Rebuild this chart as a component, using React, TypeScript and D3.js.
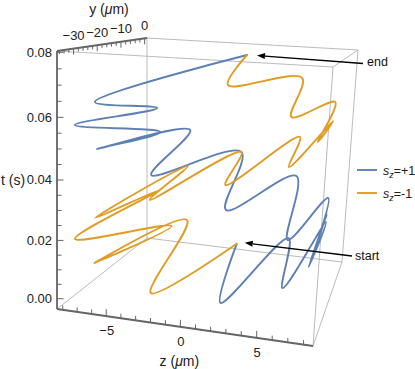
import * as d3 from 'd3';

// trajectory samples: time (s), z (µm), y (µm)
const tBlue = [0, 0.004, 0.0065, 0.0095, 0.013, 0.016, 0.0185, 0.0205, 0.0235, 0.027, 0.0315, 0.0335, 0.038, 0.04, 0.045, 0.048, 0.052, 0.0565, 0.059, 0.0625, 0.08];
const zBlue = [-0.2, 2.3, 4.3, 6.1, 7.1, 7.6, 7.3, 7.9, 7.2, 6.4, 4.6, 2.2, -0.2, -3.5, -4.6, -7.0, -3.9, -8.0, -4.7, -7.7, 2.1];
const yBlue = [-0.4, -33.9, -2.0, -30.7, 0.2, -28.4, -2.7, -33.0, -0.6, -33.7, -1.4, -31.8, 0.5, -26.4, 0.7, -28.6, -19.1, -32.0, -15.4, -25.2, -19.9];

const tOrange = [0, 0.003, 0.008, 0.0115, 0.015, 0.0185, 0.022, 0.0265, 0.031, 0.0345, 0.038, 0.041, 0.047, 0.049, 0.054, 0.056, 0.0608, 0.063, 0.071, 0.073, 0.08];
const zOrange = [-0.2, -2.6, -4.5, -6.4, -3.7, -7.9, -6.3, -6.5, -4.5, -2.8, -0.2, 2.0, 4.7, 6.1, 7.2, 7.6, 7.2, 5.8, 5.1, 2.2, 2.1];
const yOrange = [-0.4, -32.3, -0.7, -33.2, -13.7, -32.4, -4.0, -32.5, -0.8, -32.5, 0.5, -30.7, -1.5, -32.0, -1.2, -27.7, -0.1, -27.3, -7.8, -34.6, -19.9];

const seriesNames = ['+1', '-1'];
const seriesColors = ['#5E81B5', '#E19C24'];

const zMajor = [-5, 0, 5];
const yMajor = [-30, -20, -10, 0];
const tMajor = [0, 0.02, 0.04, 0.06, 0.08];
const tLabels = ['0.00', '0.02', '0.04', '0.06', '0.08'];

// view: screen position of the box corners, key = z(0/1) y(0/1) t(0/1)
const corners: Record<string, [number, number]> = {
  '000': [57, 309], '100': [313, 346], '001': [57, 51], '101': [333, 67],
  '010': [147, 238], '110': [342, 262], '011': [147, 38], '111': [358, 50],
};

const font = 'Liberation Sans, Arial, sans-serif';

export default function App() {
  const width = 415, height = 369;
  const zDom = [-8.4, 8.6], yDom = [-37, 1], tDom = [-0.0036, 0.0804];
  const zScale = d3.scaleLinear().domain(zDom).range([0, 1]);
  const yScale = d3.scaleLinear().domain(yDom).range([0, 1]);
  const tScale = d3.scaleLinear().domain(tDom).range([0, 1]);
  const persp = (f: number, k: number) => f / (f + k * (1 - f));

  const project = (z: number, y: number, t: number): [number, number] => {
    const u = persp(zScale(z), 1.05), v = yScale(y), w = persp(tScale(t), 1.079);
    let px = 0, py = 0;
    for (const i of [0, 1]) for (const j of [0, 1]) for (const k of [0, 1]) {
      const wt = (i ? u : 1 - u) * (j ? v : 1 - v) * (k ? w : 1 - w);
      const c = corners[`${i}${j}${k}`];
      px += wt * c[0];
      py += wt * c[1];
    }
    return [px, py];
  };

  const ext = (b: number, d: number[]) => d[b];
  const edges: number[][][] = [];
  for (const a of [0, 1]) for (const b of [0, 1]) {
    edges.push([[0, a, b], [1, a, b]]);
    edges.push([[a, 0, b], [a, 1, b]]);
    edges.push([[a, b, 0], [a, b, 1]]);
  }
  const P = (c: number[]) => project(ext(c[0], zDom), ext(c[1], yDom), ext(c[2], tDom));

  const line = d3.line<[number, number]>().curve(d3.curveCatmullRom.alpha(0.5));
  const blue = tBlue.map((t, i) => project(zBlue[i], yBlue[i], t));
  const orange = tOrange.map((t, i) => project(zOrange[i], yOrange[i], t));

  const axisColor = '#666';
  const zMin = zDom[0], yMin = yDom[0], tMin = tDom[0], tMax = tDom[1];

  const tMinor = d3.range(0, 0.0801, 0.005);
  const zMinor = d3.range(-8, 9, 1);
  const yMinor = d3.range(-36, 1, 2);

  const arrow = (x1: number, y1: number, x2: number, y2: number, key: string) => {
    const dx = x2 - x1, dy = y2 - y1, len = Math.hypot(dx, dy);
    const ux = dx / len, uy = dy / len;
    const hl = 8, hw = 3;
    const bx = x2 - ux * hl, by = y2 - uy * hl;
    const pts = [[x2, y2], [bx - uy * hw, by + ux * hw], [bx + uy * hw, by - ux * hw]];
    return (
      <g key={key}>
        <line x1={x1} y1={y1} x2={bx} y2={by} stroke="#000" strokeWidth={1.3} />
        <polygon points={pts.map(p => p.join(',')).join(' ')} fill="#000" />
      </g>
    );
  };

  const start = blue[0], end = blue[blue.length - 1];
  const tTitleY = project(zMin, yMin, 0.04)[1];
  const zTitle = project(0, yMin, tMin);
  const yTitle = project(zMin, -18, tMax);

  return (
    <svg width={width} height={height} style={{ position: 'absolute', left: 0, top: 0, background: '#fff' }}
      fontFamily={font}>
      {edges.map((e, i) => {
        const [a, b] = [P(e[0]), P(e[1])];
        return <line key={'e' + i} x1={a[0]} y1={a[1]} x2={b[0]} y2={b[1]} stroke="#aaa" strokeWidth={0.8} />;
      })}

      {[blue, orange].map((pts, i) => (
        <path key={'s' + i} d={line(pts) || ''} fill="none" stroke={seriesColors[i]} strokeWidth={1.9}
          strokeLinejoin="round" strokeLinecap="round" />
      ))}

      {/* axes */}
      {[[[0, 0, 0], [0, 0, 1]], [[0, 0, 0], [1, 0, 0]], [[0, 0, 1], [0, 1, 1]]].map((e, i) => {
        const [a, b] = [P(e[0]), P(e[1])];
        return <line key={'a' + i} x1={a[0]} y1={a[1]} x2={b[0]} y2={b[1]} stroke={axisColor} strokeWidth={1.8} />;
      })}

      {tMinor.map((t, i) => {
        const [x, y] = project(zMin, yMin, t);
        const major = i % 4 === 0;
        return <line key={'tt' + i} x1={x} y1={y} x2={x + (major ? 6.5 : 4.5)} y2={y} stroke={axisColor} strokeWidth={1} />;
      })}
      {tMajor.map((t, i) => {
        const [x, y] = project(zMin, yMin, t);
        return <text key={'tl' + i} x={x - 5} y={y} textAnchor="end" dominantBaseline="central" fontSize={13} fill="#222">{tLabels[i]}</text>;
      })}

      {zMinor.map(z => {
        const [x, y] = project(z, yMin, tMin);
        const major = zMajor.includes(z);
        return <line key={'zt' + z} x1={x} y1={y} x2={x} y2={y - (major ? 7 : 4.5)} stroke={axisColor} strokeWidth={1} />;
      })}
      {zMajor.map(z => {
        const [x, y] = project(z, yMin, tMin);
        return <text key={'zl' + z} x={x + 0.5} y={y + 14.5} textAnchor="middle" dominantBaseline="central" fontSize={13} fill="#222">{z < 0 ? '\u2212' + Math.abs(z) : z}</text>;
      })}

      {yMinor.map(y0 => {
        const [x, y] = project(zMin, y0, tMax);
        const major = yMajor.includes(y0);
        return <line key={'yt' + y0} x1={x} y1={y} x2={x} y2={y + (major ? 6 : 3.5)} stroke={axisColor} strokeWidth={1} />;
      })}
      {yMajor.map(y0 => {
        const [x, y] = project(zMin, y0, tMax);
        return <text key={'yl' + y0} x={x} y={y - 13} textAnchor="middle" dominantBaseline="central" fontSize={13} fill="#222">{y0 < 0 ? '\u2212' + Math.abs(y0) : y0}</text>;
      })}

      <text x={1} y={tTitleY} dominantBaseline="central" fontSize={14} fill="#222">t (s)</text>
      <text x={zTitle[0] - 1} y={zTitle[1] + 34} textAnchor="middle" dominantBaseline="central" fontSize={14} fill="#222">
        z (<tspan fontStyle="italic">μ</tspan>m)
      </text>
      <text x={yTitle[0] + 7} y={yTitle[1] - 35.5} textAnchor="middle" dominantBaseline="central" fontSize={14} fill="#222">
        y (<tspan fontStyle="italic">μ</tspan>m)
      </text>

      {arrow(363, 63.5, end[0] + 10, end[1] + 0.5, 'aend')}
      {arrow(352, 256, start[0] + 8, start[1] - 1, 'astart')}
      <text x={367} y={66} fontSize={12.5} fill="#111">end</text>
      <text x={355} y={259.5} fontSize={12.5} fill="#111">start</text>

      {seriesNames.map((n, i) => {
        const ly = 170 + i * 23;
        return (
          <g key={'lg' + i}>
            <line x1={357} y1={ly} x2={377} y2={ly} stroke={seriesColors[i]} strokeWidth={1.9} />
            <text x={383} y={ly + 4.5} fontSize={12.5} fill="#222">
              <tspan fontStyle="italic">s</tspan>
              <tspan fontStyle="italic" fontSize={9} dy={3}>z</tspan>
              <tspan dy={-3}>={n}</tspan>
            </text>
          </g>
        );
      })}
    </svg>
  );
}
